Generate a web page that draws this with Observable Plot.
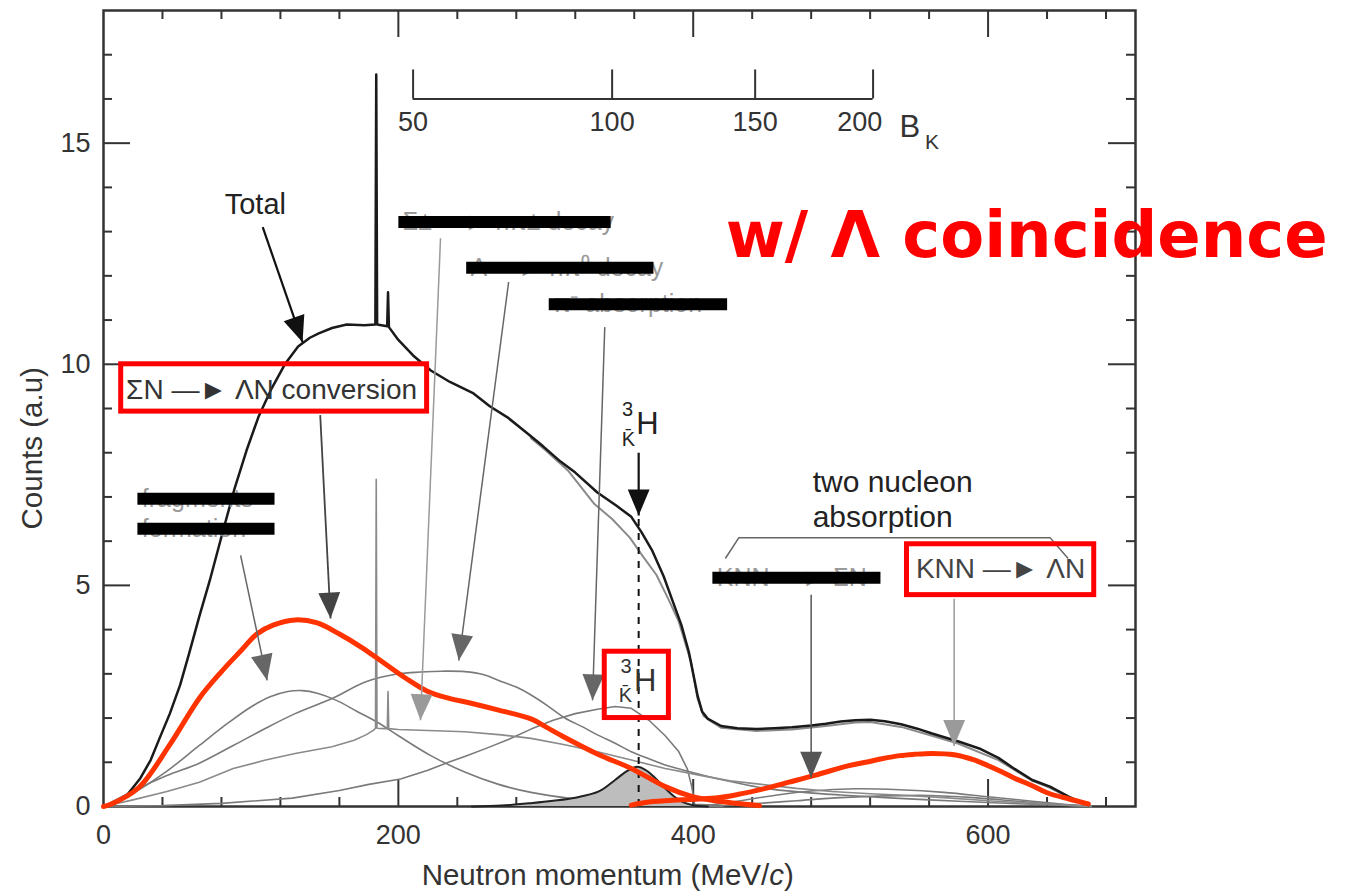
<!DOCTYPE html>
<html><head><meta charset="utf-8">
<script src="https://cdn.jsdelivr.net/npm/d3@7"></script>
<script src="https://cdn.jsdelivr.net/npm/@observablehq/plot@0.6"></script>
<style>
html,body{margin:0;padding:0;background:#fff;}
#chart svg{display:block;}
</style>
</head><body><div id="chart"></div>
<script>
// ---------- data (x = neutron momentum MeV/c, y = counts a.u.) ----------
const total = [[0,0],[8,0.08],[16,0.26],[25,0.64],[32,1.05],[38,1.54],[45,2.1],[52,2.75],[58,3.45],[65,4.3],[72,5.1],[80,6.1],[89,7.2],[97,8.05],[105,8.8],[114,9.45],[123,10.0],[132,10.4],[140,10.6],[146,10.7],[155,10.82],[165,10.9],[177,10.88],[184.4,10.9],[185,16.55],[185.6,10.9],[192.4,10.86],[193,11.63],[193.6,10.84],[200,10.55],[210,10.2],[222,9.86],[235,9.6],[251,9.34],[262,9.05],[274,8.8],[287,8.45],[298,8.15],[310,7.8],[320,7.55],[335,7.1],[348,6.8],[358,6.55],[365,6.2],[372,5.8],[380,5.2],[386,4.65],[392,4.1],[397,3.5],[400,3.0],[403,2.5],[406,2.15],[410,1.98],[419,1.82],[430,1.77],[443,1.75],[455,1.77],[467,1.79],[480,1.83],[490,1.87],[500,1.92],[510,1.95],[520,1.96],[530,1.93],[541,1.86],[552,1.76],[562,1.65],[572,1.55],[580,1.47],[595,1.3],[607,1.1],[618,0.85],[630,0.6],[642,0.45],[655,0.22],[663,0.1],[668,0.03]];
const totalWithout3H = [[290,8.33],[300,8.05],[315,7.6],[333,6.84],[345,6.5],[357,6.08],[366,5.65],[375,5.24],[383,4.7],[390,4.2],[398.5,3.27],[403,2.43],[407,2.05],[412,1.93],[419,1.78],[443,1.71],[467,1.74],[490,1.82],[510,1.9],[520,1.91],[541,1.8],[562,1.6],[580,1.42],[607,1.05],[630,0.58],[642,0.42],[655,0.2],[668,0.02]];
const fragments = [[0,0],[20,0.3],[43,0.8],[65,1.38],[85,1.9],[100,2.25],[113,2.48],[125,2.6],[135,2.62],[145,2.56],[158,2.4],[172,2.15],[186,1.9],[200,1.6],[222,1.15],[245,0.78],[268,0.5],[290,0.32],[320,0.17],[350,0.09],[380,0.04],[420,0]];
const sigmaDecay = [[0,0],[20,0.15],[43,0.34],[65,0.55],[88,0.86],[110,1.05],[130,1.2],[155,1.35],[170,1.5],[178,1.62],[183,1.72],[184.5,1.77],[185,7.4],[185.5,1.77],[190,1.76],[192.5,1.76],[193,2.6],[193.5,1.76],[200,1.74],[220,1.72],[245,1.69],[270,1.62],[290,1.54],[312,1.4],[335,1.24],[358,1.05],[381,0.86],[404,0.71],[425,0.58],[449,0.49],[470,0.41],[494,0.34],[520,0.29],[539,0.26],[570,0.2],[600,0.13],[630,0.07],[660,0.02],[670,0]];
const lambdaDecay = [[0,0],[20,0.35],[43,0.7],[65,0.98],[88,1.38],[110,1.77],[130,2.1],[155,2.44],[178,2.82],[200,3.0],[215,3.04],[230,3.06],[245,3.05],[258,2.98],[268,2.85],[280,2.7],[290,2.52],[302,2.26],[313,2.0],[325,1.8],[335,1.62],[347,1.43],[358,1.24],[370,1.08],[381,0.94],[397,0.79],[410,0.68],[426,0.56],[449,0.41],[475,0.32],[500,0.26],[530,0.2],[560,0.15],[600,0.09],[630,0.05],[660,0.02],[670,0]];
const piAbsorption = [[0,0],[40,0.02],[80,0.07],[128,0.19],[160,0.36],[180,0.5],[201.5,0.62],[220,0.82],[234,1.0],[245,1.13],[260,1.32],[275,1.52],[290,1.75],[305,1.95],[320,2.1],[335,2.2],[347,2.26],[358,2.22],[370,1.95],[381,1.6],[390,1.25],[396,0.85],[399,0.45],[401,0.05],[420,0.02]];
const kaonicH3 = [[250,0],[270,0.02],[291,0.08],[305,0.13],[320,0.2],[336,0.34],[347,0.6],[355,0.8],[362,0.9],[368,0.82],[374,0.65],[381,0.41],[388,0.2],[393,0.1],[400,0.03],[410,0]];
const knnSigma = [[405,0],[430,0.12],[455,0.25],[480,0.35],[510,0.4],[540,0.38],[570,0.32],[600,0.22],[630,0.12],[655,0.04],[670,0]];
const knnLambda = [[410,0],[440,0.06],[470,0.13],[500,0.2],[530,0.24],[560,0.25],[590,0.2],[620,0.12],[650,0.04],[670,0]];
const convWithLambda = [[0,0],[5,0.05],[24,0.43],[45,1.4],[65,2.45],[80,3.05],[94,3.55],[104,3.9],[115,4.1],[130,4.22],[145,4.15],[160,3.9],[175,3.6],[190,3.25],[205,2.9],[220,2.6],[234,2.45],[250,2.33],[268,2.18],[290,1.98],[300,1.8],[313,1.56],[336,1.17],[358,0.86],[381,0.45],[399,0.23],[415,0.13],[445,0.02]];
const knnWithLambda = [[358,0.03],[370,0.1],[392,0.15],[415,0.19],[430,0.27],[449,0.41],[465,0.55],[483,0.71],[505,0.92],[517,1.0],[528,1.08],[540,1.15],[550,1.18],[562,1.2],[577,1.17],[590,1.06],[596,0.98],[607,0.82],[618,0.64],[630,0.47],[641,0.3],[655,0.17],[668,0.06]];

// ---------- ticks ----------
const xTickLabels = [0,200,400,600];
const xMajorTicks = [200,400,600];
const xMinorTicks = [40,80,120,160,240,280,320,360,440,480,520,560,640,680];
const yTickLabels = [0,5,10,15];
const yMajorTicks = [5,10,15];
const yMinorTicks = [1,2,3,4,6,7,8,9,11,12,13,14,16,17];
const bkTickLabels = [50,100,150,200];
const bkTickMomentum = [210,345,442,522];
const bkLabelMomentum = [210,345,442,513];
const bkLevel = 16;

// ---------- annotations ----------
const arrowNames = ["Total","fragments","conversion","sigma","lambda","pi","K3H","KNNsigma","KNNlambda"];
const arrowFrom = [[108,13.1],[93,5.68],[147,8.85],[228.6,12.85],[274.8,11.86],[340,10.84],[363,8.0],[480,4.79],[577,4.7]];
const arrowTo = [[135,10.5],[111,2.85],[154,4.25],[215,1.95],[241,3.3],[331.7,2.4],[363,6.58],[480,0.65],[577,1.37]];
const arrowShade = ["#111","#666","#444","#9a9a9a","#666","#666","#111","#555","#9a9a9a"];
const arrowWidth = [2.2,1.5,1.8,1.5,1.5,1.5,2.2,1.5,1.5];

const struckTexts = ["Σ± —► nπ± decay","Λ —► nπ⁰ decay","π⁻ absorption","fragments","formation","KNN —► ΣN"];
const struckLeft = [203,249,305,26,26,416];
const struckRight = [344,373,423,116,116,527];
const struckY = [13.22,12.18,11.36,6.96,6.28,5.17];

const redBoxX1 = [12,340,545], redBoxX2 = [219.5,383.5,672];
const redBoxY1 = [8.93,2.0,4.78], redBoxY2 = [10.0,3.5,5.93];

const bracket = [[422,5.62],[431,6.08],[642,6.08],[654,5.62]];
const k3hMomentum = 363;

// ---------- layout ----------
const W = 1349, H = 891, ML = 103, MR = 214, MT = 10, MB = 85;
const XMAX = 700, YMAX = 18;
const kx = (W - ML - MR) / XMAX, ky = (H - MT - MB) / YMAX;
const minorLen = 9, majorLen = 27;
const FONT = "'Liberation Sans', Arial, Helvetica, sans-serif";
const AX = "#333";
const px = d => d[0], py = d => d[1];

const headSymbol = {draw(ctx, size) { const s = Math.sqrt(size); ctx.moveTo(0,0); ctx.lineTo(-0.42*s, s); ctx.lineTo(0.42*s, s); ctx.closePath(); }};
const headR = 26 / Math.sqrt(Math.PI);

const marks = [];
// frame & ticks
marks.push(Plot.frame({stroke: AX, strokeWidth: 2.5}));
marks.push(Plot.ruleX(xMinorTicks, {x: d => d, y1: 0, y2: minorLen/ky, stroke: AX, strokeWidth: 2}));
marks.push(Plot.ruleX(xMajorTicks, {x: d => d, y1: 0, y2: majorLen/ky, stroke: AX, strokeWidth: 2}));
marks.push(Plot.ruleX(xMinorTicks, {x: d => d, y1: YMAX, y2: YMAX - minorLen/ky, stroke: AX, strokeWidth: 2}));
marks.push(Plot.ruleX(xMajorTicks, {x: d => d, y1: YMAX, y2: YMAX - majorLen/ky, stroke: AX, strokeWidth: 2}));
marks.push(Plot.ruleY(yMinorTicks, {y: d => d, x1: 0, x2: minorLen/kx, stroke: AX, strokeWidth: 2}));
marks.push(Plot.ruleY(yMajorTicks, {y: d => d, x1: 0, x2: majorLen/kx, stroke: AX, strokeWidth: 2}));
marks.push(Plot.ruleY(yMinorTicks, {y: d => d, x1: XMAX, x2: XMAX - minorLen/kx, stroke: AX, strokeWidth: 2}));
marks.push(Plot.ruleY(yMajorTicks, {y: d => d, x1: XMAX, x2: XMAX - majorLen/kx, stroke: AX, strokeWidth: 2}));
marks.push(Plot.text(xTickLabels, {x: d => d, y: 0, dy: 29, text: d => String(d), fontSize: 27, fill: AX, fontFamily: FONT}));
marks.push(Plot.text(yTickLabels, {x: 0, y: d => d, dx: -13, text: d => String(d), textAnchor: "end", fontSize: 27, fill: AX, fontFamily: FONT}));
marks.push(Plot.text(["Neutron momentum (MeV/c)"], {x: 342, y: 0, dy: 69, text: d => d, fontSize: 29.5, fill: AX, fontFamily: FONT}));
marks.push(Plot.text(["Counts (a.u)"], {x: 0, y: 8.1, dx: -71, rotate: -90, text: d => d, fontSize: 29.5, fill: AX, fontFamily: FONT}));

// B_K inset scale
marks.push(Plot.ruleY([bkLevel], {y: d => d, x1: bkTickMomentum[0], x2: bkTickMomentum[bkTickMomentum.length-1], stroke: AX, strokeWidth: 2}));
marks.push(Plot.ruleX(bkTickMomentum, {x: d => d, y1: bkLevel, y2: bkLevel + 29/ky, stroke: AX, strokeWidth: 2}));
marks.push(Plot.text(bkTickLabels, {x: (d,i) => bkLabelMomentum[i], y: bkLevel, dy: 23, text: d => String(d), fontSize: 27, fill: AX, fontFamily: FONT}));
marks.push(Plot.text(["B"], {x: 547, y: bkLevel, dy: 28, text: d => d, fontSize: 31, fill: AX, fontFamily: FONT}));
marks.push(Plot.text(["K"], {x: 562, y: bkLevel, dy: 43, text: d => d, fontSize: 21, fill: AX, fontFamily: FONT}));

// component curves
const comp = {stroke: "#7a7a7a", strokeWidth: 1.6};
marks.push(Plot.line(knnSigma, {x: px, y: py, ...comp, curve: "catmull-rom"}));
marks.push(Plot.line(knnLambda, {x: px, y: py, ...comp, curve: "catmull-rom"}));
marks.push(Plot.line(fragments, {x: px, y: py, ...comp, curve: "catmull-rom"}));
marks.push(Plot.line(lambdaDecay, {x: px, y: py, ...comp, curve: "catmull-rom"}));
marks.push(Plot.line(piAbsorption, {x: px, y: py, ...comp}));
marks.push(Plot.line(sigmaDecay, {x: px, y: py, ...comp, stroke: "#8a8a8a"}));
marks.push(Plot.areaY(kaonicH3, {x: px, y: py, fill: "#bdbdbd", curve: "catmull-rom"}));
marks.push(Plot.line(kaonicH3, {x: px, y: py, stroke: "#222", strokeWidth: 2, curve: "catmull-rom"}));
marks.push(Plot.line(totalWithout3H, {x: px, y: py, stroke: "#8a8a8a", strokeWidth: 2}));
marks.push(Plot.line(total, {x: px, y: py, stroke: "#1a1a1a", strokeWidth: 2.5}));
marks.push(Plot.ruleX([k3hMomentum], {x: d => d, y1: 0, y2: 6.5, stroke: "#111", strokeWidth: 2, strokeDasharray: "7,7"}));

// red overlay curves
marks.push(Plot.line(convWithLambda, {x: px, y: py, stroke: "#ff3300", strokeWidth: 5, curve: "catmull-rom"}));
marks.push(Plot.line(knnWithLambda, {x: px, y: py, stroke: "#ff3300", strokeWidth: 5, curve: "catmull-rom"}));

// arrows
arrowNames.forEach((n, i) => {
  const a = [{x1: arrowFrom[i][0], y1: arrowFrom[i][1], x2: arrowTo[i][0], y2: arrowTo[i][1]}];
  const dxp = (a[0].x2 - a[0].x1) * kx, dyp = -(a[0].y2 - a[0].y1) * ky;
  const ang = Math.atan2(dxp, -dyp) * 180 / Math.PI;
  marks.push(Plot.link(a, {x1: "x1", y1: "y1", x2: "x2", y2: "y2", stroke: arrowShade[i], strokeWidth: arrowWidth[i]}));
  marks.push(Plot.dot(a, {x: "x2", y: "y2", symbol: headSymbol, r: headR, fill: arrowShade[i], stroke: "none", rotate: ang}));
});

// annotation texts
marks.push(Plot.text(["Total"], {x: 103, y: 13.6, text: d => d, fontSize: 29, fill: "#222", fontFamily: FONT}));
marks.push(Plot.text(struckTexts, {x: (d,i) => struckLeft[i], y: (d,i) => struckY[i], text: d => d, textAnchor: "start", fontSize: 25, fill: "#9a9a9a", fontFamily: FONT}));
marks.push(Plot.link(struckTexts, {x1: (d,i) => struckLeft[i] - 3, x2: (d,i) => struckRight[i], y1: (d,i) => struckY[i], y2: (d,i) => struckY[i], stroke: "#000", strokeWidth: 12}));
marks.push(Plot.text(["two nucleon"], {x: 481, y: 7.32, text: d => d, textAnchor: "start", fontSize: 30, fill: "#222", fontFamily: FONT}));
marks.push(Plot.text(["absorption"], {x: 481, y: 6.53, text: d => d, textAnchor: "start", fontSize: 30, fill: "#222", fontFamily: FONT}));
marks.push(Plot.line(bracket, {x: px, y: py, stroke: "#666", strokeWidth: 1.5}));
marks.push(Plot.text(["ΣN —► ΛN conversion"], {x: 114, y: 9.42, text: d => d, fontSize: 28, fill: "#333", fontFamily: FONT}));
marks.push(Plot.text(["KNN —► ΛN"], {x: 608.5, y: 5.36, text: d => d, fontSize: 28, fill: "#444", fontFamily: FONT}));
// K3H labels (upper and boxed)
marks.push(Plot.text(["H"], {x: 369, y: 8.64, text: d => d, fontSize: 31, fill: "#222", fontFamily: FONT}));
marks.push(Plot.text(["3"], {x: 355.5, y: 8.98, text: d => d, fontSize: 20, fill: "#222", fontFamily: FONT}));
marks.push(Plot.text(["K\u0304"], {x: 356, y: 8.3, text: d => d, fontSize: 20, fill: "#222", fontFamily: FONT}));
marks.push(Plot.text(["H"], {x: 367.5, y: 2.84, text: d => d, fontSize: 31, fill: "#333", fontFamily: FONT}));
marks.push(Plot.text(["3"], {x: 354.5, y: 3.17, text: d => d, fontSize: 20, fill: "#333", fontFamily: FONT}));
marks.push(Plot.text(["K\u0304"], {x: 354, y: 2.5, text: d => d, fontSize: 20, fill: "#333", fontFamily: FONT}));
// red boxes
marks.push(Plot.rect(redBoxX1, {x1: (d,i) => redBoxX1[i], x2: (d,i) => redBoxX2[i], y1: (d,i) => redBoxY1[i], y2: (d,i) => redBoxY2[i], stroke: "#ff0000", strokeWidth: 5, fill: "none"}));
// title
marks.push(Plot.text(["w/ Λ coincidence"], {x: 422, y: 12.9, text: d => d, textAnchor: "start", fontSize: 64, fontWeight: "bold", fill: "#ff0000", fontFamily: "'DejaVu Sans', Verdana, sans-serif"}));

const chart = Plot.plot({
  width: W, height: H,
  marginLeft: ML, marginRight: MR, marginTop: MT, marginBottom: MB,
  x: {domain: [0, XMAX], axis: null},
  y: {domain: [0, YMAX], axis: null},
  style: {background: "#fff", fontFamily: FONT, overflow: "visible"},
  marks
});
document.getElementById("chart").appendChild(chart);

// italic c in axis title
d3.select(chart).selectAll("text").filter(function(){ return this.textContent === "Neutron momentum (MeV/c)"; })
  .each(function(){
    const t = d3.select(this);
    t.text(null);
    t.append("tspan").text("Neutron momentum (MeV/");
    t.append("tspan").attr("font-style", "italic").text("c");
    t.append("tspan").text(")");
  });
</script>
</body></html>
